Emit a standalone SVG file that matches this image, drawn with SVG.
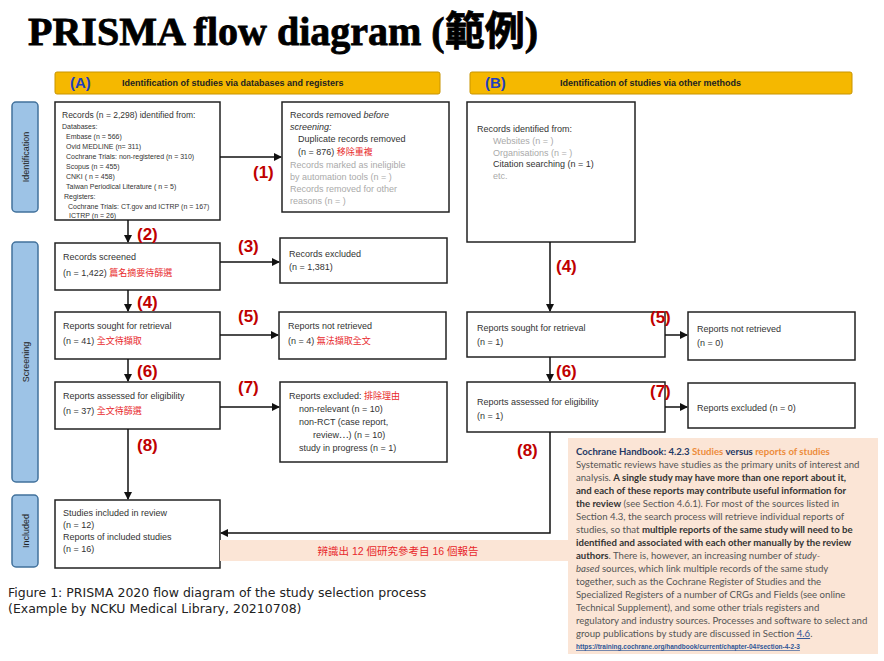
<svg xmlns="http://www.w3.org/2000/svg" width="884" height="661" viewBox="0 0 884 661">
<style>
text{font-family:"Liberation Sans",Arial,"Noto Sans CJK TC",sans-serif;fill:#333}
.box{fill:#fff;stroke:#222;stroke-width:1.5}
.ban{fill:#f5b800;stroke:#c89400;stroke-width:1}
.side{fill:#9dc3e6;stroke:#41719c;stroke-width:1.5}
.t{font-size:9px}
.s{font-size:7px}
.g{fill:#aaa}
.r{fill:#e8282b}
.lab{font-size:17px;font-weight:bold;fill:#c00000}
.cl{font-family:Lato,"Liberation Sans",sans-serif;font-size:9.6px;fill:#555}
.b{font-weight:bold;fill:#333}
.o{fill:#ed8b3a;font-weight:bold}
.ln{fill:none;stroke:#111;stroke-width:1.5}
</style>
<defs><marker id="ar" markerWidth="8" markerHeight="8" refX="7" refY="4" orient="auto" markerUnits="userSpaceOnUse"><path d="M0,0L8,4L0,8z" fill="#111"/></marker></defs>
<rect width="884" height="661" fill="#fff"/>
<text x="28" y="45" style="font-family:'Liberation Serif','Noto Sans CJK TC',serif;font-size:40px;font-weight:bold;fill:#000;stroke:#000;stroke-width:0.8">PRISMA flow diagram (範例)</text>

<g id="bannerA"><rect class="ban" x="55" y="72" width="385" height="22" rx="2"/><text x="70" y="88" style="font-size:15px;font-weight:bold;fill:#1f3fbf">(A)</text><text x="122" y="86" class="t" style="font-weight:bold;fill:#222">Identification of studies via databases and registers</text></g>
<g id="bannerB"><rect class="ban" x="470" y="72" width="382" height="22" rx="2"/><text x="485" y="88" style="font-size:15px;font-weight:bold;fill:#1f3fbf">(B)</text><text x="560" y="86" class="t" style="font-weight:bold;fill:#222">Identification of studies via other methods</text></g>

<g id="sideId"><rect class="side" x="12" y="102" width="26" height="110" rx="4"/><text transform="translate(29,157) rotate(-90)" text-anchor="middle" class="t" style="fill:#222">Identification</text></g>
<g id="sideSc"><rect class="side" x="12" y="242" width="26" height="240" rx="4"/><text transform="translate(29,362) rotate(-90)" text-anchor="middle" class="t" style="fill:#222">Screening</text></g>
<g id="sideIn"><rect class="side" x="12" y="495" width="26" height="72" rx="4"/><text transform="translate(29,531) rotate(-90)" text-anchor="middle" class="t" style="fill:#222">Included</text></g>

<g id="recA"><rect class="box" x="55" y="102" width="165" height="118"/>
<text x="62" y="118" class="t" style="font-size:8.5px">Records (n = 2,298) identified from:</text>
<text class="s"><tspan x="62" y="129">Databases:</tspan><tspan x="66" y="139">Embase (n = 566)</tspan><tspan x="66" y="149">Ovid MEDLINE (n= 311)</tspan><tspan x="66" y="159">Cochrane Trials: non-registered (n = 310)</tspan><tspan x="66" y="169">Scopus (n = 455)</tspan><tspan x="66" y="179">CNKI ( n = 458)</tspan><tspan x="66" y="189">Taiwan Periodical Literature ( n = 5)</tspan><tspan x="64" y="199">Registers:</tspan><tspan x="68" y="209">Cochrane Trials: CT.gov and ICTRP (n = 167)</tspan><tspan x="69" y="218">ICTRP (n = 26)</tspan></text></g>
<g id="remA"><rect class="box" x="282" y="102" width="167" height="110"/>
<text x="290" y="118" class="t">Records removed <tspan font-style="italic">before</tspan></text><text x="290" y="130" class="t" font-style="italic">screening:</text>
<text x="298" y="142" class="t">Duplicate records removed</text><text x="298" y="155" class="t">(n = 876) <tspan class="r">移除重複</tspan></text>
<text class="t g"><tspan x="290" y="168">Records marked as ineligible</tspan><tspan x="290" y="180">by automation tools (n = )</tspan><tspan x="290" y="192">Records removed for other</tspan><tspan x="290" y="204">reasons (n = )</tspan></text></g>

<g id="scr"><rect class="box" x="55" y="243" width="165" height="47"/><text x="63" y="260" class="t">Records screened</text><text x="63" y="276" class="t">(n = 1,422) <tspan class="r">篇名摘要待篩選</tspan></text></g>
<g id="exc"><rect class="box" x="280" y="238" width="167" height="45"/><text x="289" y="257" class="t">Records excluded</text><text x="289" y="270" class="t">(n = 1,381)</text></g>
<g id="sought"><rect class="box" x="55" y="312" width="165" height="47"/><text x="63" y="329" class="t">Reports sought for retrieval</text><text x="63" y="344" class="t">(n = 41) <tspan class="r">全文待擷取</tspan></text></g>
<g id="notret"><rect class="box" x="279" y="312" width="167" height="47"/><text x="288" y="329" class="t">Reports not retrieved</text><text x="288" y="344" class="t">(n = 4) <tspan class="r">無法擷取全文</tspan></text></g>
<g id="assess"><rect class="box" x="55" y="382" width="165" height="47"/><text x="63" y="399" class="t">Reports assessed for eligibility</text><text x="63" y="414" class="t">(n = 37) <tspan class="r">全文待篩選</tspan></text></g>
<g id="excl2"><rect class="box" x="280" y="382" width="167" height="80"/><text x="289" y="399" class="t">Reports excluded: <tspan class="r">排除理由</tspan></text>
<text class="t"><tspan x="299" y="412">non-relevant (n = 10)</tspan><tspan x="299" y="425">non-RCT (case report,</tspan><tspan x="313" y="438">review⋯) (n = 10)</tspan><tspan x="299" y="451">study in progress (n = 1)</tspan></text></g>
<g id="incl"><rect class="box" x="55" y="500" width="165" height="68"/><text class="t"><tspan x="63" y="516">Studies included in review</tspan><tspan x="63" y="528">(n = 12)</tspan><tspan x="63" y="540">Reports of included studies</tspan><tspan x="63" y="552">(n = 16)</tspan></text></g>

<g id="recB"><rect class="box" x="467" y="102" width="168" height="140"/><text x="477" y="132" class="t">Records identified from:</text>
<text class="t g"><tspan x="493" y="144">Websites (n = )</tspan><tspan x="493" y="156">Organisations (n = )</tspan></text><text x="493" y="167" class="t">Citation searching (n = 1)</text><text x="493" y="179" class="t g">etc.</text></g>
<g id="soughtB"><rect class="box" x="467" y="312" width="198" height="45"/><text x="477" y="331" class="t">Reports sought for retrieval</text><text x="477" y="345" class="t">(n = 1)</text></g>
<g id="notretB"><rect class="box" x="688" y="312" width="167" height="48"/><text x="697" y="332" class="t">Reports not retrieved</text><text x="697" y="346" class="t">(n = 0)</text></g>
<g id="assessB"><rect class="box" x="467" y="382" width="198" height="50"/><text x="477" y="405" class="t">Reports assessed for eligibility</text><text x="477" y="419" class="t">(n = 1)</text></g>
<g id="exclB"><rect class="box" x="688" y="383" width="167" height="45"/><text x="697" y="411" class="t">Reports excluded (n = 0)</text></g>

<g id="band"><rect x="220" y="540" width="350" height="21" fill="#fbe5d6"/><text x="398" y="555" text-anchor="middle" class="r" style="font-size:10.5px">辨識出 12 個研究參考自 16 個報告</text></g>

<g id="connectors">
<path class="ln" d="M220,157H281" marker-end="url(#ar)"/>
<path class="ln" d="M128,220V242" marker-end="url(#ar)"/>
<path class="ln" d="M220,262H279" marker-end="url(#ar)"/>
<path class="ln" d="M128,290V311" marker-end="url(#ar)"/>
<path class="ln" d="M220,335H278" marker-end="url(#ar)"/>
<path class="ln" d="M128,359V381" marker-end="url(#ar)"/>
<path class="ln" d="M220,407H279" marker-end="url(#ar)"/>
<path class="ln" d="M128,429V499" marker-end="url(#ar)"/>
<path class="ln" d="M550,242V311" marker-end="url(#ar)"/>
<path class="ln" d="M665,335H687" marker-end="url(#ar)"/>
<path class="ln" d="M550,357V381" marker-end="url(#ar)"/>
<path class="ln" d="M665,407H687" marker-end="url(#ar)"/>
<path class="ln" d="M550,432V533H221" marker-end="url(#ar)"/>
</g>
<g id="labels">
<text x="253" y="178" class="lab">(1)</text><text x="137" y="240" class="lab">(2)</text><text x="238" y="252" class="lab">(3)</text>
<text x="137" y="308" class="lab">(4)</text><text x="238" y="322" class="lab">(5)</text><text x="137" y="377" class="lab">(6)</text>
<text x="238" y="393" class="lab">(7)</text><text x="137" y="451" class="lab">(8)</text>
<text x="556" y="272" class="lab">(4)</text><text x="650" y="323" class="lab">(5)</text><text x="556" y="377" class="lab">(6)</text>
<text x="650" y="397" class="lab">(7)</text><text x="517" y="456" class="lab">(8)</text>
</g>

<g id="cochrane"><rect x="568" y="438" width="310" height="216" fill="#fbe5d6"/>
<text class="cl">
<tspan x="576" y="455" class="b" style="fill:#1f3864">Cochrane Handbook:  4.2.3 <tspan class="o">Studies</tspan> versus <tspan class="o">reports of studies</tspan></tspan>
<tspan x="576" y="468">Systematic reviews have studies as the primary units of interest and</tspan>
<tspan x="576" y="481">analysis. <tspan class="b">A single study may have more than one report about it,</tspan></tspan>
<tspan x="576" y="494" class="b">and each of these reports may contribute useful information for</tspan>
<tspan x="576" y="507"><tspan class="b">the review</tspan> (see Section 4.6.1). For most of the sources listed in</tspan>
<tspan x="576" y="520">Section 4.3, the search process will retrieve individual reports of</tspan>
<tspan x="576" y="533">studies, so that <tspan class="b">multiple reports of the same study will need to be</tspan></tspan>
<tspan x="576" y="546" class="b">identified and associated with each other manually by the review</tspan>
<tspan x="576" y="559"><tspan class="b">authors</tspan>. There is, however, an increasing number of <tspan font-style="italic">study-</tspan></tspan>
<tspan x="576" y="572"><tspan font-style="italic">based</tspan> sources, which link multiple records of the same study</tspan>
<tspan x="576" y="585">together, such as the Cochrane Register of Studies and the</tspan>
<tspan x="576" y="598">Specialized Registers of a number of CRGs and Fields (see online</tspan>
<tspan x="576" y="611">Technical Supplement), and some other trials registers and</tspan>
<tspan x="576" y="624">regulatory and industry sources. Processes and software to select and</tspan>
<tspan x="576" y="637">group publications by study are discussed in Section <tspan text-decoration="underline" style="fill:#2e5597">4.6</tspan>.</tspan>
</text>
<text x="576" y="649" style="font-family:'Liberation Sans',sans-serif;font-size:6.5px;fill:#2e5597;font-weight:bold" text-decoration="underline">https://training.cochrane.org/handbook/current/chapter-04#section-4-2-3</text>
</g>
<text x="8" y="597" style="font-family:'DejaVu Sans',sans-serif;font-size:12.5px;fill:#222">Figure 1: PRISMA 2020 flow diagram of the study selection process</text>
<text x="8" y="613" style="font-family:'DejaVu Sans',sans-serif;font-size:12.5px;fill:#222">(Example by NCKU Medical Library, 20210708)</text>
</svg>
